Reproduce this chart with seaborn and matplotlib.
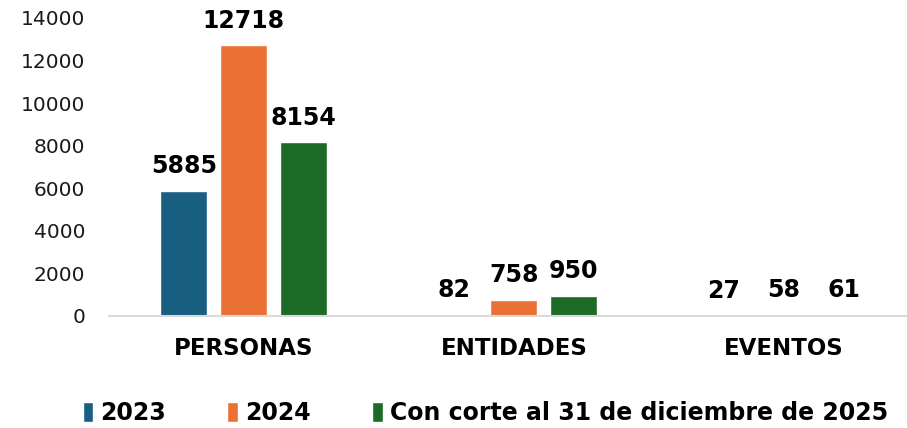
import pandas as pd
import matplotlib
matplotlib.use("Agg")
import matplotlib.pyplot as plt
import seaborn as sns

# =========================
# DATA
# =========================
categories = ["PERSONAS", "ENTIDADES", "EVENTOS"]
series_names = ["2023", "2024", "Con corte al 31 de diciembre de 2025"]
values_2023 = [5885, 82, 27]
values_2024 = [12718, 758, 58]
values_2025 = [8154, 950, 61]
y_ticks = [0, 2000, 4000, 6000, 8000, 10000, 12000, 14000]
colors = ["#185f82", "#ea7034", "#1d6b27"]

df = pd.DataFrame({
    "categoria": categories * 3,
    "serie": [series_names[0]] * 3 + [series_names[1]] * 3 + [series_names[2]] * 3,
    "valor": values_2023 + values_2024 + values_2025,
})

# =========================
# PLOT
# =========================
sns.set_style("white")
plt.rcParams["font.family"] = ["DejaVu Sans"]

fig = plt.figure(figsize=(9.07, 4.28), dpi=100)
ax = fig.add_axes([0.12, 0.262, 0.893, 0.696])

sns.barplot(data=df, x="categoria", y="valor", hue="serie",
            palette=colors, saturation=1, width=0.667, gap=0.22, ax=ax,
            order=categories, hue_order=series_names)

for container in ax.containers:
    ax.bar_label(container, fmt="%d", padding=9,
                 fontsize=17, fontweight="bold", color="black")

ax.set_ylim(0, 14000)
ax.set_yticks(y_ticks)
ax.set_yticklabels([str(t) for t in y_ticks], fontsize=14.5, color="#1a1a1a")
ax.set_xticks(range(len(categories)))
ax.set_xticklabels(categories, fontsize=16.5, fontweight="bold", color="black")
ax.tick_params(axis="both", length=0)
ax.tick_params(axis="x", pad=15)
ax.tick_params(axis="y", pad=17)
ax.set_xlabel("")
ax.set_ylabel("")

for side in ["top", "right", "left"]:
    ax.spines[side].set_visible(False)
ax.spines["bottom"].set_color("#d9d9d9")
ax.spines["bottom"].set_linewidth(1.5)

handles, labels = ax.get_legend_handles_labels()
ax.get_legend().remove()
leg = fig.legend(handles, labels, loc="center", bbox_to_anchor=(0.535, 0.035),
                 ncol=3, frameon=False, handlelength=0.45, handleheight=0.9,
                 handletextpad=0.3, columnspacing=2.6,
                 prop={"size": 17, "weight": "bold"})
for t in leg.get_texts():
    t.set_color("black")

fig.savefig("out.png", dpi=100)
